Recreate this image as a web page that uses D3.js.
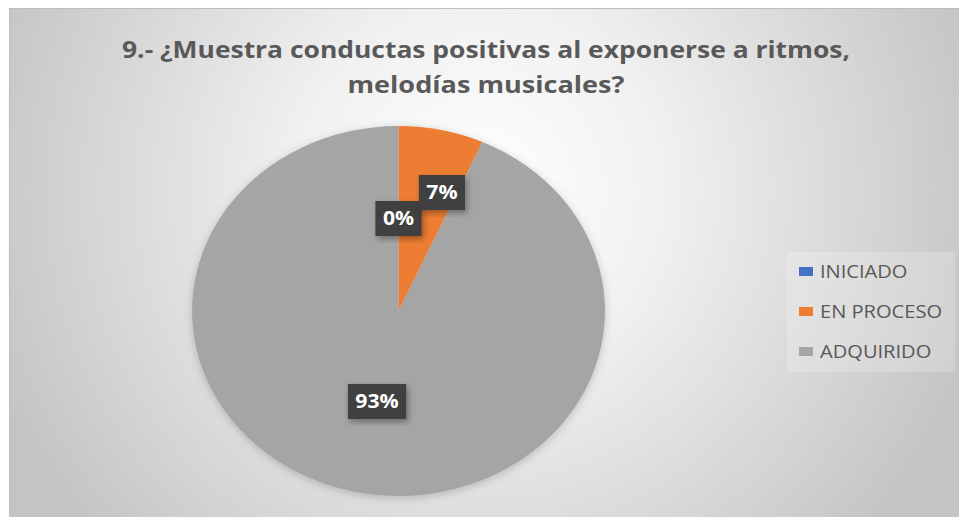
<!DOCTYPE html>
<html>
<head>
<meta charset="utf-8">
<script src="https://cdn.jsdelivr.net/npm/d3@7"></script>
<style>
  body { margin: 0; background: #fff; }
  svg { display: block; }
</style>
</head>
<body>
<svg></svg>
<script>
var width = 959;
var height = 517;

// data
var categories = ["INICIADO", "EN PROCESO", "ADQUIRIDO"];
var counts = [0, 1, 14];
var colors = ["#4472C4", "#ED7D31", "#A5A5A5"];
var titleLines = ["9.- ¿Muestra conductas positivas al exponerse a ritmos,", "melodías musicales?"];

var stretch = 1.116;   // the picture is a bit wider than tall
var cx = 398.5, cy = 311, radius = 185;

var svg = d3.select("svg")
    .attr("width", width)
    .attr("height", height);

var defs = svg.append("defs");

var grad = defs.append("radialGradient")
    .attr("id", "bg")
    .attr("gradientUnits", "userSpaceOnUse")
    .attr("cx", 480).attr("cy", 190).attr("r", 520);
grad.append("stop").attr("offset", "0%").attr("stop-color", "#ffffff");
grad.append("stop").attr("offset", "35%").attr("stop-color", "#f1f1f1");
grad.append("stop").attr("offset", "100%").attr("stop-color", "#c4c4c4");

var shadow = defs.append("filter").attr("id", "shadow")
    .attr("x", "-20%").attr("y", "-20%").attr("width", "140%").attr("height", "140%");
shadow.append("feDropShadow")
    .attr("dx", 2).attr("dy", 3).attr("stdDeviation", 3)
    .attr("flood-color", "#000").attr("flood-opacity", 0.35);

var pieShadow = defs.append("filter").attr("id", "pieShadow")
    .attr("x", "-10%").attr("y", "-10%").attr("width", "120%").attr("height", "120%");
pieShadow.append("feDropShadow")
    .attr("dx", 0).attr("dy", 2).attr("stdDeviation", 4)
    .attr("flood-color", "#000").attr("flood-opacity", 0.2);

// chart area
svg.append("rect")
    .attr("x", 9.5).attr("y", 8.5)
    .attr("width", width - 9).attr("height", height - 8)
    .attr("fill", "url(#bg)")
    .attr("stroke", "#bdbdbd");

// title
svg.append("g").selectAll("text")
    .data(titleLines)
    .enter().append("text")
    .attr("x", 486)
    .attr("y", function(d, i){ return 58 + i * 35; })
    .attr("text-anchor", "middle")
    .attr("font-family", "'Open Sans', sans-serif")
    .attr("font-weight", "bold")
    .attr("font-size", 23)
    .attr("fill", "#595959")
    .attr("textLength", function(d, i){ return i == 0 ? 728 : 277; })
    .attr("lengthAdjust", "spacingAndGlyphs")
    .text(function(d){ return d; });

// pie
var total = d3.sum(counts);
var pie = d3.pie().sort(null).value(function(d){ return d; });
var arcs = pie(counts);
var arc = d3.arc().innerRadius(0).outerRadius(radius);
var labelArc = d3.arc().innerRadius(radius * 0.5).outerRadius(radius * 0.5);

var pieG = svg.append("g")
    .attr("transform", "translate(" + cx + "," + cy + ") scale(" + stretch + ",1)")
    .attr("filter", "url(#pieShadow)");

pieG.selectAll("path")
    .data(arcs)
    .enter().append("path")
    .attr("d", arc)
    .attr("fill", function(d, i){ return colors[i]; });

// data labels (EN PROCESO nudged off the 0% one, like Excel does)
var nudge = [[0, 0], [22, -28], [0, 0]];
var labels = svg.append("g").selectAll("g")
    .data(arcs)
    .enter().append("g")
    .attr("transform", function(d, i){
        var c = labelArc.centroid(d);
        return "translate(" + (cx + c[0] * stretch + nudge[i][0]) + "," + (cy + c[1] + nudge[i][1]) + ")";
    });

labels.append("rect")
    .attr("fill", "#404040")
    .attr("filter", "url(#shadow)");

labels.append("text")
    .attr("text-anchor", "middle")
    .attr("dy", "0.36em")
    .attr("font-family", "'Open Sans', sans-serif")
    .attr("font-weight", "bold")
    .attr("font-size", 19)
    .attr("fill", "#ffffff")
    .attr("transform", "scale(" + stretch + ",1)")
    .text(function(d){ return Math.round(d.value / total * 100) + "%"; });

labels.each(function(){
    var g = d3.select(this);
    var w = g.select("text").node().getComputedTextLength() * stretch;
    g.select("rect")
        .attr("x", -w / 2 - 7.5).attr("y", -17.5)
        .attr("width", w + 15).attr("height", 35);
});

// legend
var legend = svg.append("g");
legend.append("rect")
    .attr("x", 787).attr("y", 252)
    .attr("width", 168).attr("height", 120)
    .attr("fill", "#ffffff").attr("fill-opacity", 0.2);

var items = legend.selectAll("g.item")
    .data(categories)
    .enter().append("g")
    .attr("class", "item")
    .attr("transform", function(d, i){ return "translate(799," + (271.5 + i * 40) + ")"; });

items.append("rect")
    .attr("x", 0).attr("y", -4.5)
    .attr("width", 14).attr("height", 9)
    .attr("fill", function(d, i){ return colors[i]; });

items.append("text")
    .attr("dy", "0.36em")
    .attr("font-family", "'Open Sans', sans-serif")
    .attr("font-size", 18)
    .attr("fill", "#595959")
    .attr("transform", "translate(21,0) scale(" + stretch + ",1)")
    .text(function(d){ return d; });
</script>
</body>
</html>
